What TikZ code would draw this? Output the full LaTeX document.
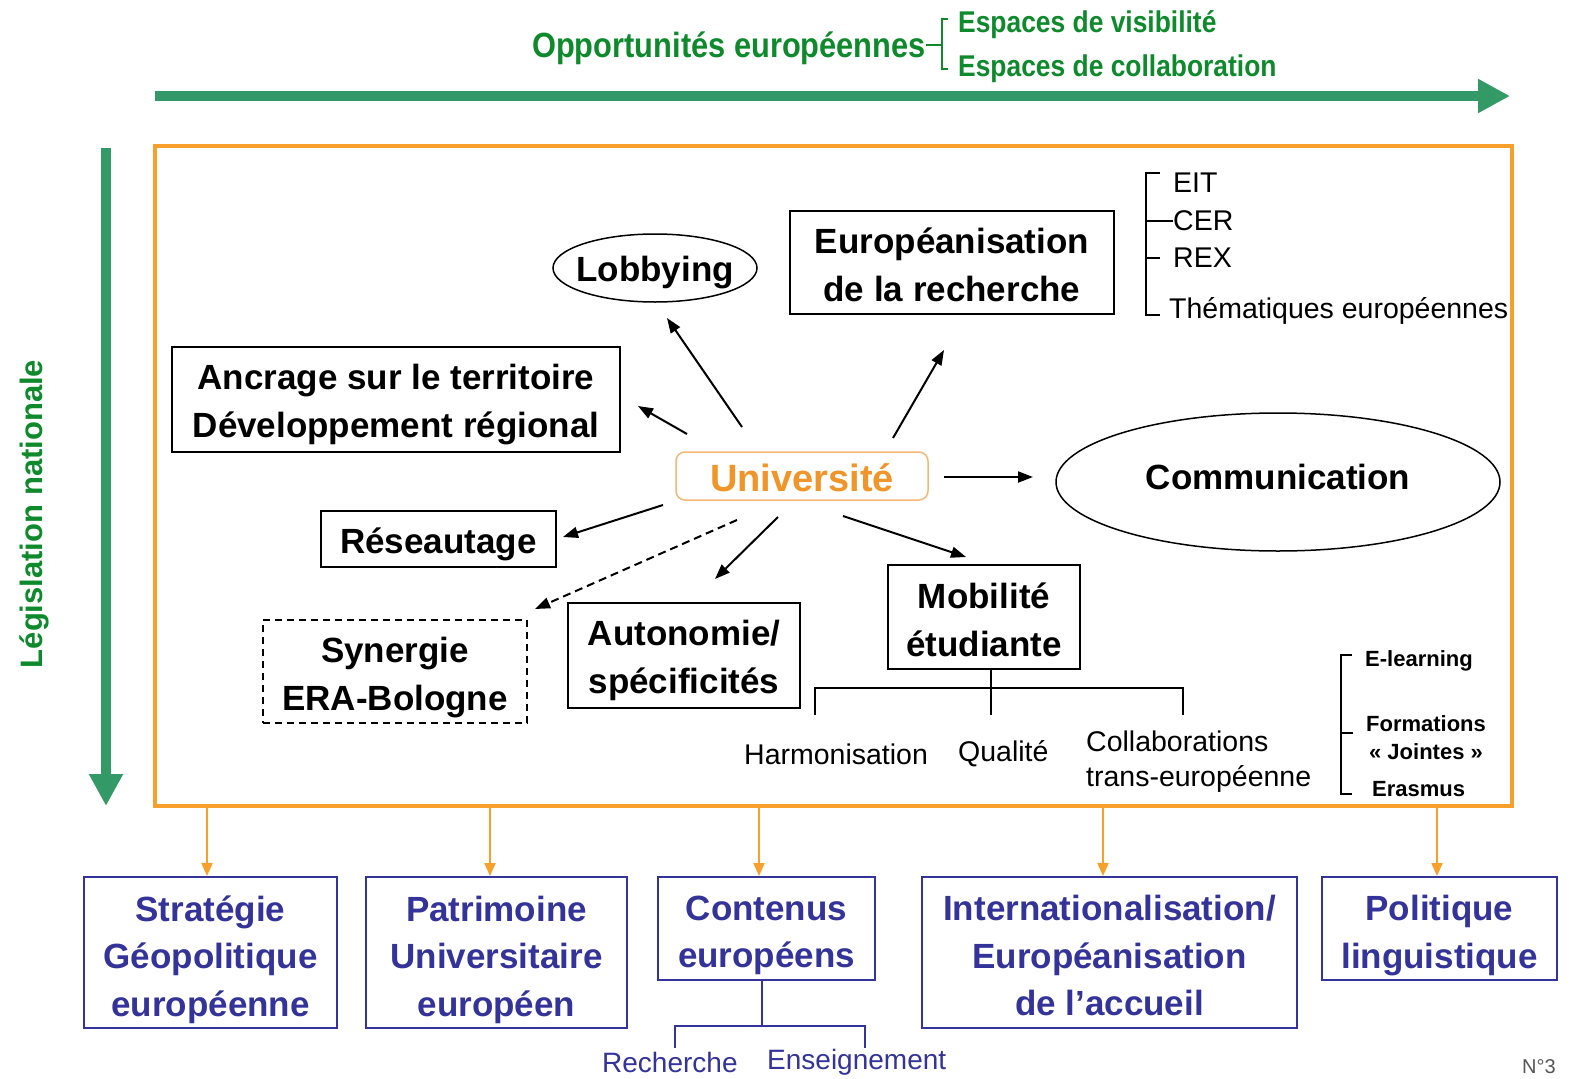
\documentclass[tikz,border=0pt]{standalone}
\usepackage{fontspec}
\setmainfont{Liberation Sans}
\newfontfamily\narrowsf{Liberation Sans}[FakeStretch=0.88]
\usetikzlibrary{arrows.meta,shapes.geometric}
\definecolor{gArrow}{HTML}{339966}
\definecolor{gText}{HTML}{0E8A2C}
\definecolor{oFrame}{HTML}{F7A12C}
\definecolor{oUniv}{HTML}{F0952A}
\definecolor{oUnivB}{HTML}{F5B877}
\definecolor{bBlue}{HTML}{333399}
\definecolor{nGray}{HTML}{555555}
\tikzset{
  blk/.style={draw=black, line width=1.8pt, inner sep=0pt},
  ell/.style={ellipse, draw=black, line width=1.5pt, inner sep=0pt},
  btxt/.style={inner sep=0pt, align=center, font=\bfseries\fontsize{35}{48}\selectfont},
  bluebox/.style={draw=bBlue, line width=2pt, inner sep=0pt},
  bluetxt/.style={text=bBlue, inner sep=0pt, align=center, font=\bfseries\fontsize{35}{47.5}\selectfont},
  arr/.style={line width=2pt, -{Triangle[length=15pt,width=11pt]}},
  oarr/.style={draw=oFrame, line width=2pt, -{Triangle[length=13pt,width=11pt]}},
  garr/.style={draw=gArrow, line width=10pt, -{Triangle[length=32pt,width=32pt]}},
  brk/.style={line width=1.5pt},
  smalltxt/.style={font=\fontsize{28.5}{35}\selectfont, inner sep=0pt, anchor=west},
  tinytxt/.style={font=\bfseries\fontsize{22}{28}\selectfont, inner sep=0pt},
}
\begin{document}
\begin{tikzpicture}[x=1pt,y=-1pt]
\useasboundingbox (0,0) rectangle (1572,1079);
\fill[white] (0,0) rectangle (1572,1079);

% header
\node[anchor=east, text=gText, font=\narrowsf\bfseries\fontsize{35}{40}\selectfont, inner sep=0pt] (opp) at (926,48) {Opportunités européennes};
\node[anchor=west, text=gText, font=\narrowsf\bfseries\fontsize{30}{34}\selectfont, inner sep=0pt] (vis) at (958,25) {Espaces de visibilité};
\node[anchor=west, text=gText, font=\narrowsf\bfseries\fontsize{30}{34}\selectfont, inner sep=0pt] (col) at (958,69) {Espaces de collaboration};
\draw[gText, brk] (948,19) -- (942,19) -- (942,69) -- (948,69);
\coordinate (bm) at (942,45);
\draw[gText, brk] (opp.east |- bm) -- (bm);

% green arrows
\coordinate (hs) at (155,96);
\coordinate (he) at (1510,96);
\draw[garr] (hs) -- (he);
\coordinate (vs) at (106,148);
\coordinate (ve) at (106,806);
\draw[garr] (vs) -- (ve);
\node[rotate=90, text=gText, font=\bfseries\fontsize{31}{35}\selectfont, inner sep=0pt] (legis) at (34,514) {Législation nationale};

% frame
\node[draw=oFrame, line width=4pt, minimum width=1357pt, minimum height=660pt, inner sep=0pt] (frame) at (833.5,476) {};

% inner nodes
\node[ell, minimum width=204pt, minimum height=68pt] (lobby) at (655,268) {};
\node[btxt, yshift=-5pt] (lobbyT) at (lobby) {Lobbying};
\node[blk, minimum width=324pt, minimum height=103pt] (euro) at (952,262.5) {};
\node[btxt, yshift=-2pt] (euroT) at (euro) {Européanisation\\de la recherche};
\node[blk, minimum width=448pt, minimum height=105pt] (ancr) at (396,399.5) {};
\node[btxt, yshift=-5pt] (ancrT) at (ancr) {Ancrage sur le territoire\\Développement régional};
\node[draw=oUnivB, line width=1.5pt, rounded corners=9pt, minimum width=252pt, minimum height=48pt, inner sep=0pt] (univ) at (802,476) {};
\node[inner sep=0pt, text=oUniv, font=\bfseries\fontsize{38}{40}\selectfont, yshift=-2pt] (univT) at (univ) {Université};
\node[ell, minimum width=444pt, minimum height=138pt] (comm) at (1278,482) {};
\node[btxt, yshift=5pt] (commT) at (comm) {Communication};
\node[blk, minimum width=235pt, minimum height=56pt] (reseau) at (438.5,539) {};
\node[btxt, yshift=-5pt] (reseauT) at (reseau) {Réseautage};
\node[blk, dash pattern=on 7pt off 5pt, minimum width=264pt, minimum height=103pt] (syn) at (395,671.5) {};
\node[btxt, yshift=-6pt] (synT) at (syn) {Synergie\\ERA-Bologne};
\node[blk, minimum width=232pt, minimum height=105pt] (auto) at (684,655.5) {};
\node[btxt, yshift=-5pt] (autoT) at (auto) {Autonomie/\\spécificités};
\node[blk, minimum width=192pt, minimum height=104pt] (mob) at (984,617) {};
\node[btxt, yshift=-3pt] (mobT) at (mob) {Mobilité\\étudiante};

% EIT bracket
\node[smalltxt] (eit) at (1173,183) {EIT};
\node[smalltxt] (cer) at (1173,221) {CER};
\node[smalltxt] (rex) at (1173,258) {REX};
\node[smalltxt] (them) at (1169,311) {Thématiques européennes};
\draw[brk] (1160,173) -- (1146,173) -- (1146,315) -- (1160,315);
\draw[brk] (1146,221) -- (cer.west);
\draw[brk] (1146,258) -- (1160,258);

% arrows from Université
\coordinate (a1s) at (742,427); \coordinate (a1e) at (667,318);
\coordinate (a2s) at (687,434); \coordinate (a2e) at (638,406);
\coordinate (a3s) at (893,438); \coordinate (a3e) at (944,350);
\coordinate (a4s) at (944,477); \coordinate (a4e) at (1033,477);
\coordinate (a5s) at (663,505); \coordinate (a5e) at (563,537);
\coordinate (a6s) at (737,520); \coordinate (a6e) at (535,609);
\coordinate (a7s) at (778,517); \coordinate (a7e) at (715,579);
\coordinate (a8s) at (843,516); \coordinate (a8e) at (966,557);
\draw[arr] (a1s) -- (a1e);
\draw[arr] (a2s) -- (a2e);
\draw[arr] (a3s) -- (a3e);
\draw[arr] (a4s) -- (a4e);
\draw[arr] (a5s) -- (a5e);
\draw[arr, dash pattern=on 8pt off 5pt] (a6s) -- (a6e);
\draw[arr] (a7s) -- (a7e);
\draw[arr] (a8s) -- (a8e);

% Mobilite tree
\coordinate (mt) at (991,688);
\draw[brk] (mob.south -| mt) -- (991,715);
\draw[brk] (815,715) -- (815,688) -- (1183,688) -- (1183,715);
\node[smalltxt] (harm) at (744,754) {Harmonisation};
\node[smalltxt] (qual) at (958,754) {Qualité};
\node[smalltxt, align=left] (coll) at (1086,762) {Collaborations\\trans-européenne};

% E-learning bracket
\node[tinytxt, anchor=west] (elearn) at (1365,661) {E-learning};
\node[tinytxt, align=center] (form) at (1426,738) {Formations\\« Jointes »};
\node[tinytxt, anchor=west] (erasm) at (1372,789) {Erasmus};
\draw[brk] (1352,655) -- (1341,655) -- (1341,794) -- (1352,794);
\draw[brk] (1341,733) -- (1353,733);

% bottom boxes
\node[bluebox, minimum width=253pt, minimum height=151pt] (strat) at (210.5,952.5) {};
\node[bluetxt, yshift=-7pt] (stratT) at (strat) {Stratégie\\Géopolitique\\européenne};
\node[bluebox, minimum width=261pt, minimum height=151pt] (patr) at (496.5,952.5) {};
\node[bluetxt, yshift=-7pt] (patrT) at (patr) {Patrimoine\\Universitaire\\européen};
\node[bluebox, minimum width=217pt, minimum height=103pt] (cont) at (766.5,928.5) {};
\node[bluetxt, yshift=-7pt] (contT) at (cont) {Contenus\\européens};
\node[bluebox, minimum width=375pt, minimum height=151pt] (intl) at (1109.5,952.5) {};
\node[bluetxt, yshift=-3pt] (intlT) at (intl) {Internationalisation/\\Européanisation\\de l’accueil};
\node[bluebox, minimum width=235pt, minimum height=103pt] (poli) at (1439.5,928.5) {};
\node[bluetxt, yshift=-7pt] (poliT) at (poli) {Politique\\linguistique};

% orange arrows
\coordinate (t1) at ([xshift=-3.5pt]strat.north);
\coordinate (t2) at ([xshift=-6.5pt]patr.north);
\coordinate (t3) at ([xshift=-7.5pt]cont.north);
\coordinate (t4) at ([xshift=-6.5pt]intl.north);
\coordinate (t5) at ([xshift=-2.5pt]poli.north);
\draw[oarr] (frame.south -| t1) -- (t1);
\draw[oarr] (frame.south -| t2) -- (t2);
\draw[oarr] (frame.south -| t3) -- (t3);
\draw[oarr] (frame.south -| t4) -- (t4);
\draw[oarr] (frame.south -| t5) -- (t5);

% Contenus tree
\coordinate (ct) at (762,1026);
\draw[bBlue, line width=2pt] (cont.south -| ct) -- (ct);
\draw[bBlue, line width=2pt] (675,1048) -- (675,1026) -- (865,1026) -- (865,1048);
\node[anchor=west, text=bBlue, font=\fontsize{28}{30}\selectfont, inner sep=0pt] (rech) at (602,1062) {Recherche};
\node[anchor=west, text=bBlue, font=\fontsize{28}{30}\selectfont, inner sep=0pt] (ens) at (767,1062) {Enseignement};

% page number
\node[anchor=north west, text=nGray, font=\fontsize{20}{22}\selectfont, inner sep=0pt] (num) at (1522,1059) {N°3};
\end{tikzpicture}
\end{document}
